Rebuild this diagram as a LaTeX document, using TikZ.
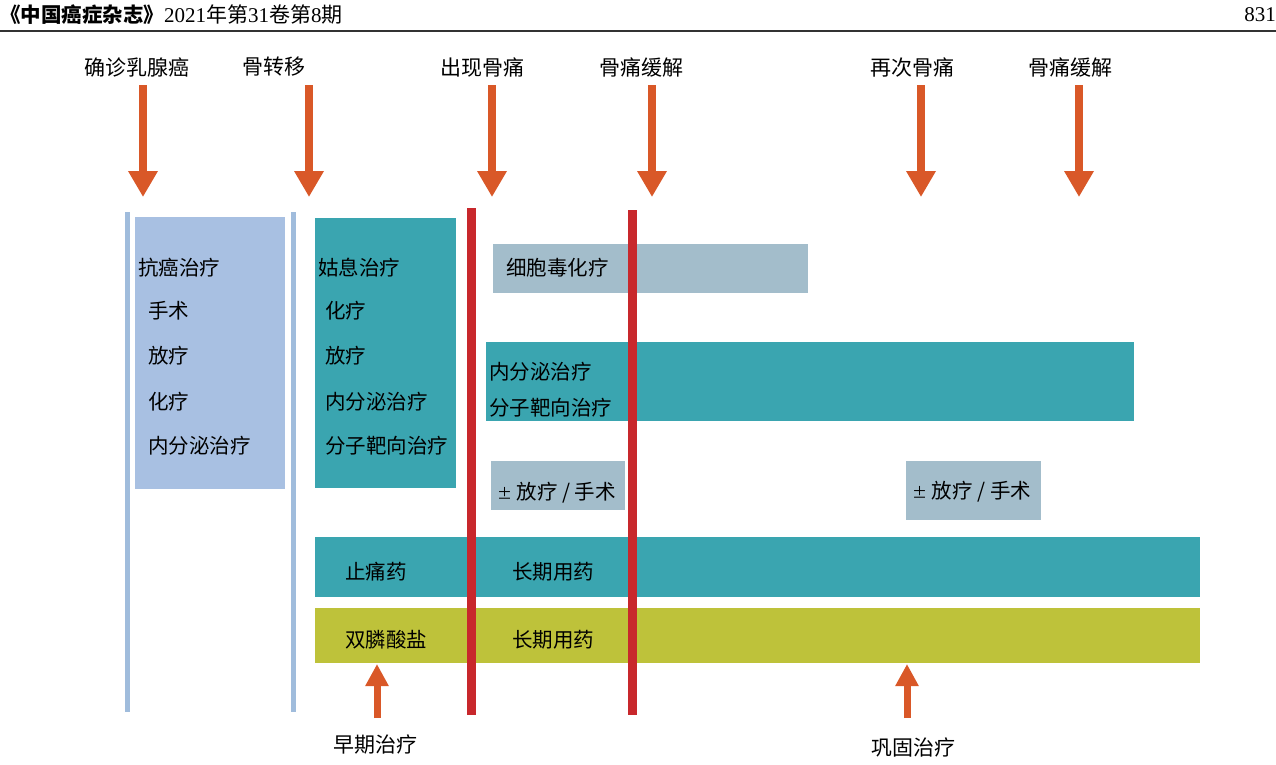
\documentclass[tikz,border=0pt]{standalone}
\usepackage{fontspec}
\setmainfont{Liberation Serif}
\newfontfamily\cjk{Noto Sans CJK SC}
\usetikzlibrary{arrows.meta}
\definecolor{teal1}{RGB}{58,165,176}
\definecolor{lblue}{RGB}{168,192,226}
\definecolor{gblue}{RGB}{163,189,203}
\definecolor{ygreen}{RGB}{190,194,58}
\definecolor{redl}{RGB}{200,40,44}
\definecolor{arrowc}{RGB}{217,88,40}
\definecolor{thinb}{RGB}{160,188,220}
\tikzset{
  lbl/.style={font=\cjk\fontsize{21}{24}\selectfont, inner sep=0pt},
  txt/.style={font=\cjk\fontsize{20.5}{24}\selectfont, inner sep=0pt, anchor=west},
  box/.style={inner sep=0pt, anchor=north west, draw=none},
  downarr/.style={draw=arrowc, line width=8.5pt, -{Triangle[width=28pt,length=26pt]}},
  uparr/.style={draw=arrowc, line width=7pt, -{Triangle[width=22pt,length=22pt]}},
  thinline/.style={draw=thinb, line width=5pt},
  redline/.style={draw=redl, line width=9pt}
}
\begin{document}
\begin{tikzpicture}[x=1pt,y=-1pt]
\useasboundingbox (0,0) rectangle (1276,764);
% header
\node[inner sep=0pt, anchor=west] (hdr) at (0,15) {{\cjk\bfseries\fontsize{20.5}{24}\selectfont 《中国癌症杂志》}{\fontsize{21}{24}\selectfont 2021{\cjk 年第}31{\cjk 卷第}8{\cjk 期}}};
\node[inner sep=0pt, anchor=east, font=\fontsize{21}{24}\selectfont] (pg) at (1276,15) {831};
\coordinate (hl) at (0,31);
\coordinate (hr) at (1276,31);
\draw[line width=2pt, black!80] (hl) -- (hr);

% top labels
\node[lbl] (l1) at (137,67) {确诊乳腺癌};
\node[lbl] (l2) at (274,67) {骨转移};
\node[lbl] (l3) at (482,67) {出现骨痛};
\node[lbl] (l4) at (641,67) {骨痛缓解};
\node[lbl] (l5) at (912,67) {再次骨痛};
\node[lbl] (l6) at (1070,67) {骨痛缓解};

% down arrows
\foreach \n/\x in {1/143,2/309,3/492,4/652,5/921,6/1079}{
  \coordinate (d\n t) at (\x,85);
  \coordinate (d\n b) at (\x,197);
  \draw[downarr] (d\n t) -- (d\n b);
}

% thin vertical lines
\coordinate (t1t) at (127,212); \coordinate (t1b) at (127,712);
\coordinate (t2t) at (293,212); \coordinate (t2b) at (293,712);
\draw[thinline] (t1t) -- (t1b);
\draw[thinline] (t2t) -- (t2b);

% boxes
\node[box, fill=lblue, minimum width=150pt, minimum height=272pt] (b1) at (135,217) {};
\node[box, fill=teal1, minimum width=141pt, minimum height=270pt] (b2) at (315,218) {};
\node[box, fill=gblue, minimum width=315pt, minimum height=49pt] (b3) at (493,244) {};
\node[box, fill=teal1, minimum width=648pt, minimum height=79pt] (b4) at (486,342) {};
\node[box, fill=gblue, minimum width=134pt, minimum height=49pt] (b5) at (491,461) {};
\node[box, fill=gblue, minimum width=135pt, minimum height=59pt] (b6) at (906,461) {};
\node[box, fill=teal1, minimum width=885pt, minimum height=60pt] (b7) at (315,537) {};
\node[box, fill=ygreen, minimum width=885pt, minimum height=55pt] (b8) at (315,608) {};

% red lines
\coordinate (r1t) at (471,208); \coordinate (r1b) at (471,715);
\coordinate (r2t) at (632,210); \coordinate (r2b) at (632,715);
\draw[redline] (r1t) -- (r1b);
\draw[redline] (r2t) -- (r2b);

% box texts
\node[txt] (x11) at (138,268) {抗癌治疗};
\node[txt] (x12) at (148,311) {手术};
\node[txt] (x13) at (148,356) {放疗};
\node[txt] (x14) at (148,402) {化疗};
\node[txt] (x15) at (148,446) {内分泌治疗};
\node[txt] (x21) at (318,268) {姑息治疗};
\node[txt] (x22) at (325,311) {化疗};
\node[txt] (x23) at (325,356) {放疗};
\node[txt] (x24) at (325,402) {内分泌治疗};
\node[txt] (x25) at (325,446) {分子靶向治疗};
\node[txt] (x31) at (506,268) {细胞毒化疗};
\node[txt] (x41) at (489,372) {内分泌治疗};
\node[txt] (x42) at (489,408) {分子靶向治疗};
\node[txt] (x51) at (497,493) {{\fontsize{15}{18}\selectfont ±} 放疗 / 手术};
\node[txt] (x61) at (912,492) {{\fontsize{15}{18}\selectfont ±} 放疗 / 手术};
\node[txt] (x71) at (345,572) {止痛药};
\node[txt] (x72) at (512,572) {长期用药};
\node[txt] (x81) at (345,640) {双膦酸盐};
\node[txt] (x82) at (512,640) {长期用药};

% up arrows
\coordinate (u1b) at (377,718); \coordinate (u1t) at (377,664);
\coordinate (u2b) at (907,718); \coordinate (u2t) at (907,664);
\draw[uparr] (u1b) -- (u1t);
\draw[uparr] (u2b) -- (u2t);

% bottom labels
\node[lbl] (bl1) at (375,745) {早期治疗};
\node[lbl] (bl2) at (913,747) {巩固治疗};
\end{tikzpicture}
\end{document}
